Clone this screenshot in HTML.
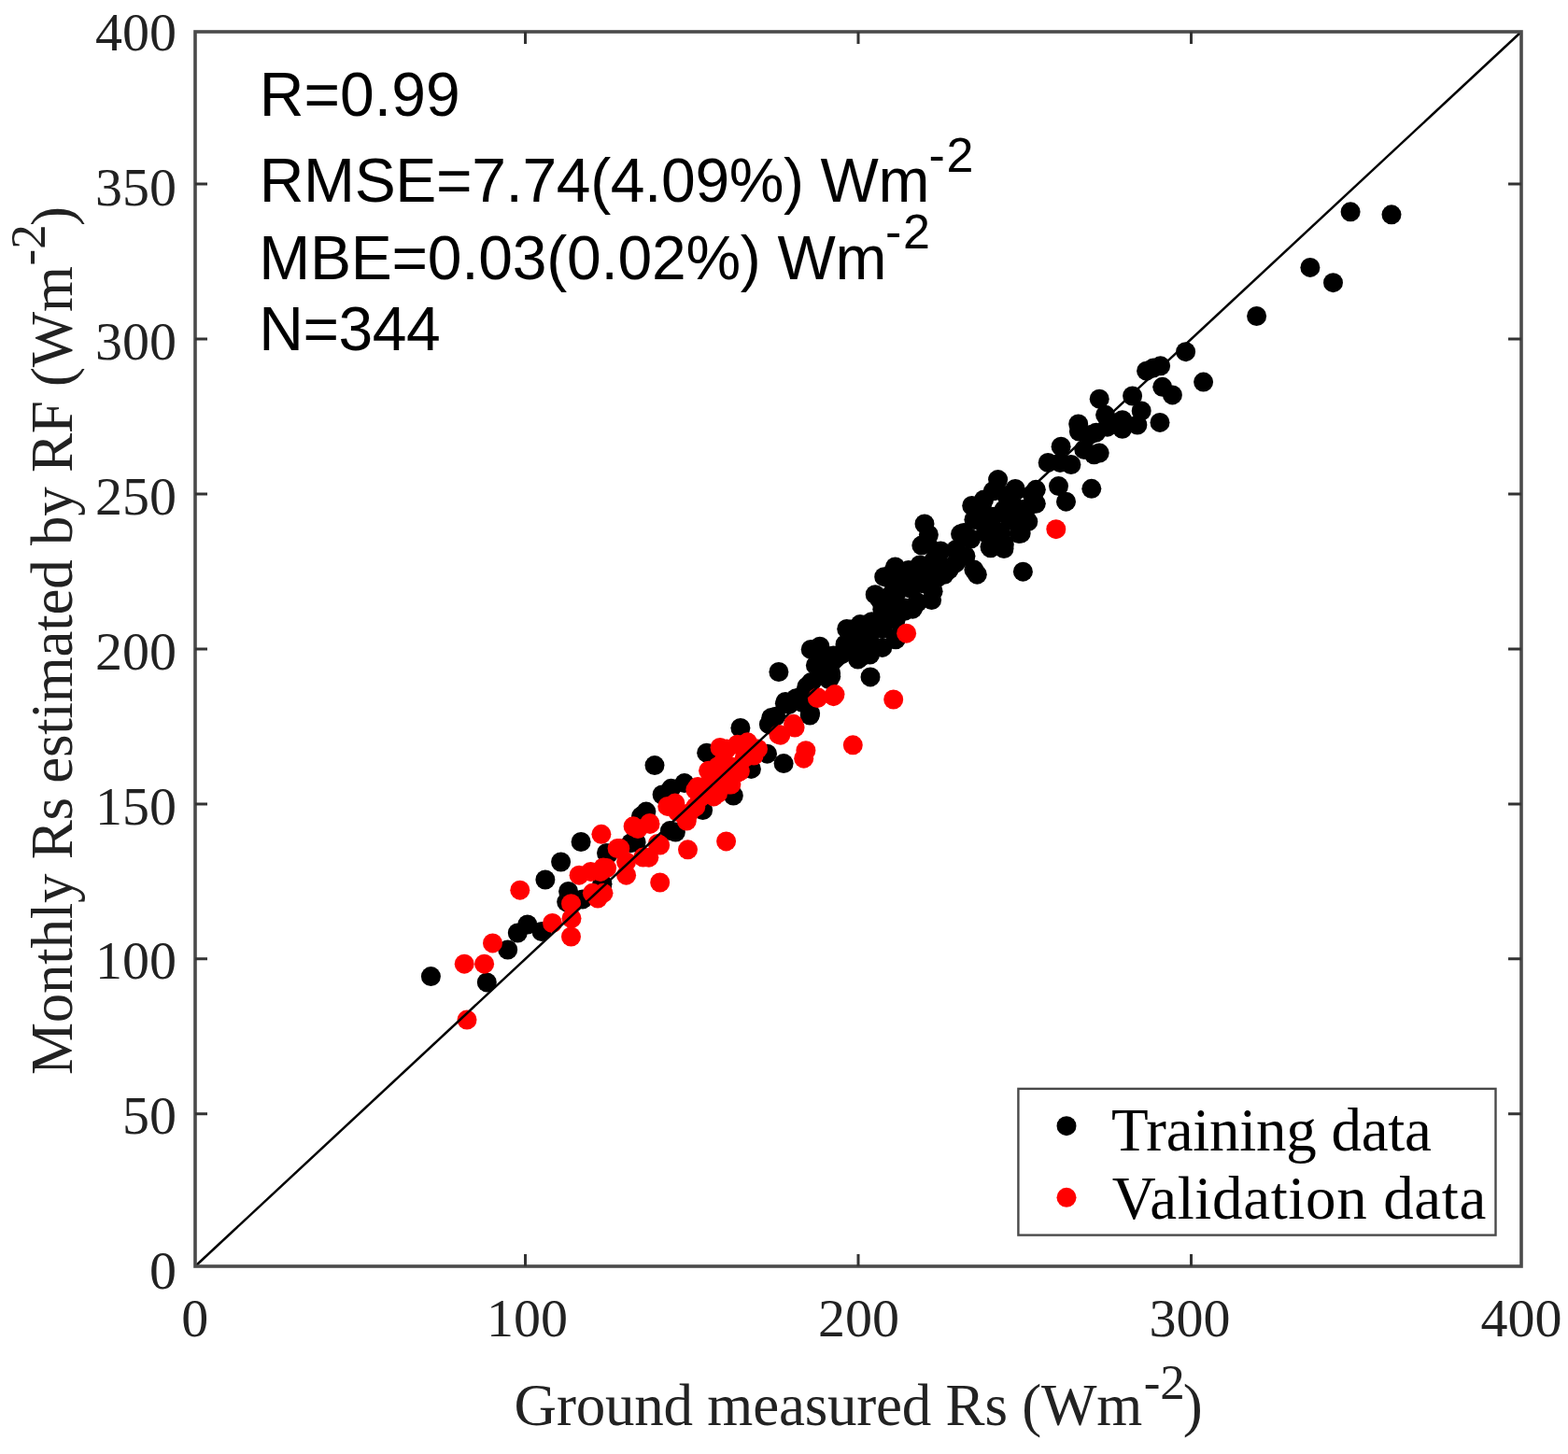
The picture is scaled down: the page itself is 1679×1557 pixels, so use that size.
<!DOCTYPE html><html><head><meta charset="utf-8"><title>Scatter</title><style>
html,body{margin:0;padding:0;background:#fff;width:1679px;height:1557px;overflow:hidden}
svg{display:block}
.tl{font-family:"Liberation Serif",serif;font-size:58px;fill:#222}
.at{font-family:"Liberation Serif",serif;font-size:63px;fill:#222}
.asup{font-family:"Liberation Serif",serif;font-size:53px;fill:#222}
.sup{font-size:42px}
.st{font-family:"Liberation Sans",sans-serif;font-size:66px;fill:#000}
.ssup{font-size:52px;letter-spacing:1.5px}
.lg{font-family:"Liberation Serif",serif;font-size:65px;fill:#000}
</style></head><body><svg width="1679" height="1557" viewBox="0 0 1679 1557"><rect width="1679" height="1557" fill="#fff"/><g fill="#000"><circle cx="461.4" cy="1045.6" r="10.5"/><circle cx="521.3" cy="1051.9" r="10.5"/><circle cx="543.7" cy="1017.0" r="10.5"/><circle cx="554.3" cy="999.0" r="10.5"/><circle cx="564.8" cy="990.0" r="10.5"/><circle cx="580.0" cy="997.5" r="10.5"/><circle cx="583.9" cy="942.0" r="10.5"/><circle cx="600.6" cy="923.0" r="10.5"/><circle cx="622.1" cy="901.5" r="10.5"/><circle cx="608.6" cy="954.4" r="10.5"/><circle cx="606.7" cy="965.8" r="10.5"/><circle cx="623.9" cy="962.9" r="10.5"/><circle cx="644.9" cy="946.7" r="10.5"/><circle cx="651.5" cy="914.3" r="10.5"/><circle cx="681.1" cy="901.9" r="10.5"/><circle cx="644.8" cy="946.8" r="10.5"/><circle cx="649.5" cy="913.4" r="10.5"/><circle cx="675.7" cy="902.7" r="10.5"/><circle cx="701.0" cy="819.6" r="10.5"/><circle cx="792.9" cy="779.5" r="10.5"/><circle cx="756.7" cy="806.2" r="10.5"/><circle cx="821.5" cy="807.2" r="10.5"/><circle cx="839.1" cy="817.6" r="10.5"/><circle cx="823.4" cy="775.7" r="10.5"/><circle cx="804.4" cy="823.4" r="10.5"/><circle cx="785.3" cy="852.0" r="10.5"/><circle cx="718.6" cy="844.3" r="10.5"/><circle cx="732.9" cy="838.6" r="10.5"/><circle cx="709.1" cy="851.0" r="10.5"/><circle cx="752.6" cy="867.6" r="10.5"/><circle cx="723.4" cy="891.0" r="10.5"/><circle cx="691.9" cy="869.1" r="10.5"/><circle cx="686.5" cy="874.1" r="10.5"/><circle cx="717.4" cy="889.6" r="10.5"/><circle cx="833.9" cy="719.5" r="10.5"/><circle cx="932.0" cy="724.9" r="10.5"/><circle cx="867.2" cy="766.1" r="10.5"/><circle cx="840.4" cy="753.3" r="10.5"/><circle cx="830.7" cy="767.2" r="10.5"/><circle cx="865.0" cy="735.0" r="10.5"/><circle cx="889.7" cy="724.3" r="10.5"/><circle cx="875.7" cy="713.6" r="10.5"/><circle cx="868.2" cy="695.4" r="10.5"/><circle cx="877.9" cy="692.2" r="10.5"/><circle cx="901.5" cy="700.7" r="10.5"/><circle cx="911.1" cy="674.0" r="10.5"/><circle cx="922.9" cy="702.9" r="10.5"/><circle cx="927.2" cy="686.8" r="10.5"/><circle cx="935.8" cy="670.7" r="10.5"/><circle cx="948.6" cy="665.4" r="10.5"/><circle cx="959.4" cy="683.6" r="10.5"/><circle cx="932.6" cy="695.4" r="10.5"/><circle cx="918.6" cy="706.1" r="10.5"/><circle cx="905.0" cy="690.0" r="10.5"/><circle cx="890.0" cy="710.0" r="10.5"/><circle cx="941.8" cy="641.5" r="10.5"/><circle cx="956.8" cy="611.5" r="10.5"/><circle cx="972.9" cy="610.4" r="10.5"/><circle cx="986.8" cy="584.1" r="10.5"/><circle cx="990.0" cy="561.0" r="10.5"/><circle cx="1028.6" cy="571.8" r="10.5"/><circle cx="1046.3" cy="615.2" r="10.5"/><circle cx="997.6" cy="642.5" r="10.5"/><circle cx="977.2" cy="652.2" r="10.5"/><circle cx="945.0" cy="649.0" r="10.5"/><circle cx="1003.0" cy="619.0" r="10.5"/><circle cx="1012.6" cy="608.2" r="10.5"/><circle cx="1023.3" cy="602.9" r="10.5"/><circle cx="1034.0" cy="595.4" r="10.5"/><circle cx="1007.2" cy="590.0" r="10.5"/><circle cx="1060.8" cy="586.8" r="10.5"/><circle cx="1071.5" cy="570.7" r="10.5"/><circle cx="1055.4" cy="570.7" r="10.5"/><circle cx="960.0" cy="635.0" r="10.5"/><circle cx="975.0" cy="630.0" r="10.5"/><circle cx="990.0" cy="625.0" r="10.5"/><circle cx="985.0" cy="605.0" r="10.5"/><circle cx="1000.0" cy="600.0" r="10.5"/><circle cx="955.0" cy="660.0" r="10.5"/><circle cx="1095.4" cy="612.2" r="10.5"/><circle cx="1168.8" cy="523.3" r="10.5"/><circle cx="1133.5" cy="520.6" r="10.5"/><circle cx="1141.5" cy="537.2" r="10.5"/><circle cx="1109.3" cy="524.3" r="10.5"/><circle cx="1109.3" cy="539.3" r="10.5"/><circle cx="1068.6" cy="513.6" r="10.5"/><circle cx="1086.8" cy="524.3" r="10.5"/><circle cx="1040.7" cy="541.5" r="10.5"/><circle cx="1100.8" cy="558.6" r="10.5"/><circle cx="1091.1" cy="571.5" r="10.5"/><circle cx="1075.0" cy="587.6" r="10.5"/><circle cx="1060.0" cy="585.4" r="10.5"/><circle cx="1032.2" cy="570.4" r="10.5"/><circle cx="1060.0" cy="556.5" r="10.5"/><circle cx="1075.0" cy="545.8" r="10.5"/><circle cx="1053.6" cy="535.0" r="10.5"/><circle cx="1080.4" cy="535.0" r="10.5"/><circle cx="1042.9" cy="556.5" r="10.5"/><circle cx="1064.3" cy="567.2" r="10.5"/><circle cx="1090.0" cy="545.0" r="10.5"/><circle cx="1023.6" cy="588.6" r="10.5"/><circle cx="1042.9" cy="610.1" r="10.5"/><circle cx="1016.1" cy="610.1" r="10.5"/><circle cx="1136.1" cy="478.2" r="10.5"/><circle cx="1122.2" cy="495.4" r="10.5"/><circle cx="1146.9" cy="497.5" r="10.5"/><circle cx="1135.1" cy="495.4" r="10.5"/><circle cx="1160.8" cy="481.4" r="10.5"/><circle cx="1171.5" cy="486.8" r="10.5"/><circle cx="1155.4" cy="462.0" r="10.5"/><circle cx="1173.7" cy="463.2" r="10.5"/><circle cx="1242.0" cy="452.4" r="10.5"/><circle cx="1255.4" cy="422.9" r="10.5"/><circle cx="1244.7" cy="414.3" r="10.5"/><circle cx="1227.6" cy="397.2" r="10.5"/><circle cx="1242.6" cy="391.8" r="10.5"/><circle cx="1235.1" cy="393.9" r="10.5"/><circle cx="1212.6" cy="424.0" r="10.5"/><circle cx="1222.2" cy="440.0" r="10.5"/><circle cx="1217.9" cy="455.0" r="10.5"/><circle cx="1201.8" cy="459.3" r="10.5"/><circle cx="1185.8" cy="457.2" r="10.5"/><circle cx="1183.6" cy="444.3" r="10.5"/><circle cx="1177.2" cy="427.2" r="10.5"/><circle cx="1154.7" cy="454.0" r="10.5"/><circle cx="1166.5" cy="465.8" r="10.5"/><circle cx="1177.2" cy="485.1" r="10.5"/><circle cx="1201.8" cy="449.7" r="10.5"/><circle cx="1269.6" cy="376.7" r="10.5"/><circle cx="1288.6" cy="409.1" r="10.5"/><circle cx="1446.1" cy="226.8" r="10.5"/><circle cx="1490.0" cy="229.8" r="10.5"/><circle cx="1402.9" cy="286.4" r="10.5"/><circle cx="1427.5" cy="302.7" r="10.5"/><circle cx="1345.6" cy="338.5" r="10.5"/><circle cx="873.4" cy="712.4" r="10.5"/><circle cx="882.9" cy="706.7" r="10.5"/><circle cx="892.4" cy="701.9" r="10.5"/><circle cx="901.9" cy="699.1" r="10.5"/><circle cx="878.1" cy="721.0" r="10.5"/><circle cx="889.6" cy="721.0" r="10.5"/><circle cx="868.6" cy="730.5" r="10.5"/><circle cx="863.8" cy="735.3" r="10.5"/><circle cx="887.6" cy="727.7" r="10.5"/><circle cx="919.1" cy="704.8" r="10.5"/><circle cx="931.5" cy="701.0" r="10.5"/><circle cx="944.8" cy="693.4" r="10.5"/><circle cx="959.1" cy="684.8" r="10.5"/><circle cx="906.7" cy="673.4" r="10.5"/><circle cx="921.0" cy="668.6" r="10.5"/><circle cx="933.4" cy="665.7" r="10.5"/><circle cx="944.8" cy="652.4" r="10.5"/><circle cx="954.4" cy="644.8" r="10.5"/><circle cx="978.2" cy="649.5" r="10.5"/><circle cx="916.2" cy="682.9" r="10.5"/><circle cx="930.5" cy="682.9" r="10.5"/><circle cx="925.8" cy="694.3" r="10.5"/><circle cx="944.8" cy="673.4" r="10.5"/><circle cx="959.1" cy="663.8" r="10.5"/><circle cx="968.6" cy="654.3" r="10.5"/><circle cx="911.5" cy="692.4" r="10.5"/><circle cx="935.3" cy="692.4" r="10.5"/><circle cx="844.8" cy="754.4" r="10.5"/><circle cx="867.6" cy="763.9" r="10.5"/><circle cx="859.1" cy="752.4" r="10.5"/><circle cx="852.4" cy="747.7" r="10.5"/><circle cx="1063.4" cy="525.8" r="10.5"/><circle cx="1077.7" cy="530.5" r="10.5"/><circle cx="1051.5" cy="541.3" r="10.5"/><circle cx="1081.3" cy="556.7" r="10.5"/><circle cx="1063.4" cy="553.2" r="10.5"/><circle cx="1046.7" cy="556.7" r="10.5"/><circle cx="1099.1" cy="544.8" r="10.5"/><circle cx="1093.2" cy="571.0" r="10.5"/><circle cx="1075.3" cy="583.0" r="10.5"/><circle cx="1039.6" cy="577.0" r="10.5"/><circle cx="1105.1" cy="529.3" r="10.5"/><circle cx="1087.2" cy="523.4" r="10.5"/><circle cx="993.0" cy="582.0" r="10.5"/><circle cx="963.4" cy="615.3" r="10.5"/><circle cx="975.3" cy="627.2" r="10.5"/><circle cx="987.2" cy="615.3" r="10.5"/><circle cx="999.1" cy="603.4" r="10.5"/><circle cx="1011.0" cy="615.3" r="10.5"/><circle cx="999.1" cy="633.2" r="10.5"/><circle cx="951.5" cy="639.1" r="10.5"/><circle cx="969.3" cy="651.0" r="10.5"/><circle cx="957.4" cy="627.2" r="10.5"/><circle cx="982.4" cy="645.1" r="10.5"/><circle cx="958.6" cy="607.0" r="10.5"/><circle cx="946.7" cy="617.7" r="10.5"/><circle cx="937.2" cy="636.7" r="10.5"/><circle cx="841.0" cy="751.4" r="10.5"/><circle cx="825.8" cy="768.6" r="10.5"/><circle cx="859.1" cy="744.8" r="10.5"/><circle cx="994.4" cy="572.4" r="10.5"/></g><g fill="#f00"><circle cx="497.2" cy="1032.2" r="10.5"/><circle cx="518.6" cy="1032.2" r="10.5"/><circle cx="500.0" cy="1092.1" r="10.5"/><circle cx="527.5" cy="1009.9" r="10.5"/><circle cx="591.5" cy="988.5" r="10.5"/><circle cx="611.5" cy="1003.0" r="10.5"/><circle cx="612.0" cy="983.5" r="10.5"/><circle cx="556.8" cy="953.2" r="10.5"/><circle cx="611.5" cy="967.7" r="10.5"/><circle cx="634.4" cy="956.3" r="10.5"/><circle cx="640.1" cy="962.0" r="10.5"/><circle cx="620.1" cy="937.2" r="10.5"/><circle cx="632.5" cy="933.4" r="10.5"/><circle cx="643.0" cy="933.4" r="10.5"/><circle cx="649.6" cy="929.6" r="10.5"/><circle cx="661.1" cy="908.6" r="10.5"/><circle cx="670.6" cy="922.9" r="10.5"/><circle cx="670.6" cy="937.2" r="10.5"/><circle cx="646.0" cy="928.9" r="10.5"/><circle cx="683.0" cy="887.6" r="10.5"/><circle cx="688.7" cy="918.1" r="10.5"/><circle cx="643.9" cy="893.3" r="10.5"/><circle cx="663.8" cy="908.6" r="10.5"/><circle cx="646.0" cy="956.3" r="10.5"/><circle cx="771.0" cy="800.5" r="10.5"/><circle cx="800.5" cy="794.8" r="10.5"/><circle cx="807.2" cy="809.1" r="10.5"/><circle cx="835.8" cy="787.2" r="10.5"/><circle cx="758.6" cy="825.3" r="10.5"/><circle cx="790.0" cy="827.2" r="10.5"/><circle cx="775.0" cy="815.0" r="10.5"/><circle cx="780.0" cy="840.0" r="10.5"/><circle cx="747.2" cy="842.4" r="10.5"/><circle cx="764.3" cy="852.9" r="10.5"/><circle cx="714.8" cy="863.4" r="10.5"/><circle cx="737.6" cy="871.0" r="10.5"/><circle cx="695.7" cy="881.5" r="10.5"/><circle cx="704.3" cy="903.4" r="10.5"/><circle cx="706.7" cy="945.0" r="10.5"/><circle cx="736.5" cy="909.8" r="10.5"/><circle cx="777.6" cy="900.9" r="10.5"/><circle cx="678.1" cy="884.8" r="10.5"/><circle cx="696.0" cy="882.4" r="10.5"/><circle cx="706.7" cy="905.1" r="10.5"/><circle cx="694.8" cy="918.2" r="10.5"/><circle cx="956.7" cy="749.0" r="10.5"/><circle cx="970.6" cy="678.2" r="10.5"/><circle cx="913.3" cy="797.8" r="10.5"/><circle cx="894.0" cy="743.6" r="10.5"/><circle cx="875.7" cy="746.8" r="10.5"/><circle cx="851.1" cy="779.0" r="10.5"/><circle cx="833.9" cy="786.5" r="10.5"/><circle cx="862.9" cy="803.7" r="10.5"/><circle cx="860.7" cy="812.2" r="10.5"/><circle cx="1130.8" cy="566.7" r="10.5"/><circle cx="849.5" cy="775.3" r="10.5"/><circle cx="778.1" cy="801.9" r="10.5"/><circle cx="789.6" cy="797.2" r="10.5"/><circle cx="801.9" cy="801.9" r="10.5"/><circle cx="811.5" cy="801.9" r="10.5"/><circle cx="797.2" cy="811.5" r="10.5"/><circle cx="782.9" cy="821.0" r="10.5"/><circle cx="768.6" cy="821.0" r="10.5"/><circle cx="792.4" cy="825.8" r="10.5"/><circle cx="773.4" cy="835.3" r="10.5"/><circle cx="759.1" cy="840.1" r="10.5"/><circle cx="782.9" cy="840.1" r="10.5"/><circle cx="749.5" cy="854.4" r="10.5"/><circle cx="768.6" cy="849.6" r="10.5"/><circle cx="744.8" cy="863.9" r="10.5"/><circle cx="754.3" cy="844.8" r="10.5"/><circle cx="875.3" cy="747.6" r="10.5"/><circle cx="892.5" cy="745.7" r="10.5"/><circle cx="725.8" cy="869.6" r="10.5"/><circle cx="735.3" cy="879.1" r="10.5"/><circle cx="722.9" cy="860.1" r="10.5"/><circle cx="744.8" cy="845.8" r="10.5"/></g><line x1="209" y1="1356" x2="1629" y2="34" stroke="#000" stroke-width="2.5"/><rect x="209" y="34" width="1420" height="1322" fill="none" stroke="#4a4a4a" stroke-width="3.6"/><path d="M209 1192.8h13M1629 1192.8h-14M209 1026.8h13M1629 1026.8h-14M209 860.9h13M1629 860.9h-14M209 694.9h13M1629 694.9h-14M209 528.9h13M1629 528.9h-14M209 363.0h13M1629 363.0h-14M209 197.0h13M1629 197.0h-14M562.5 1356v-13M562.5 34v13M919.0 1356v-13M919.0 34v13M1275.5 1356v-13M1275.5 34v13" stroke="#333" stroke-width="3" fill="none"/><text x="189" y="54.0" text-anchor="end" class="tl">400</text><text x="189" y="219.7" text-anchor="end" class="tl">350</text><text x="189" y="385.4" text-anchor="end" class="tl">300</text><text x="189" y="551.1" text-anchor="end" class="tl">250</text><text x="189" y="716.8" text-anchor="end" class="tl">200</text><text x="189" y="882.5" text-anchor="end" class="tl">150</text><text x="189" y="1048.2" text-anchor="end" class="tl">100</text><text x="189" y="1213.9" text-anchor="end" class="tl">50</text><text x="189" y="1379.6" text-anchor="end" class="tl">0</text><text x="208.7" y="1430.5" text-anchor="middle" class="tl">0</text><text x="564.6" y="1430.5" text-anchor="middle" class="tl">100</text><text x="919.5" y="1430.5" text-anchor="middle" class="tl">200</text><text x="1274" y="1430.5" text-anchor="middle" class="tl">300</text><text x="1629.1" y="1430.5" text-anchor="middle" class="tl">400</text><text x="550.6" y="1526" class="at" textLength="672.7" lengthAdjust="spacing">Ground measured Rs (Wm</text><text x="1224.7" y="1497.9" class="asup">-2</text><text x="1266.7" y="1526" class="at">)</text><g transform="translate(76.5,1151) rotate(-90)"><text x="0" y="0" class="at" textLength="866" lengthAdjust="spacing">Monthly Rs estimated by RF (Wm</text><text x="866.6" y="-28.5" class="asup">-2</text><text x="909" y="0" class="at">)</text></g><g class="st"><text x="277.8" y="124.3" textLength="214.9" lengthAdjust="spacing">R=0.99</text><text x="277.8" y="216.2" textLength="717.7" lengthAdjust="spacing">RMSE=7.74(4.09%) Wm</text><text x="994.6" y="184.3" class="ssup">-2</text><text x="277.3" y="298.6" textLength="672.3" lengthAdjust="spacing">MBE=0.03(0.02%) Wm</text><text x="948.1" y="265.9" class="ssup">-2</text><text x="277.3" y="374.6" textLength="194.3" lengthAdjust="spacing">N=344</text></g><rect x="1090.4" y="1165.9" width="511.1" height="156.7" fill="#fff" stroke="#4a4a4a" stroke-width="2.4"/><circle cx="1142" cy="1205.7" r="10.5" fill="#000"/><circle cx="1142" cy="1282.3" r="10.5" fill="#f00"/><text x="1190.1" y="1232" class="lg" textLength="342.85" lengthAdjust="spacing">Training data</text><text x="1190.8" y="1305" class="lg" textLength="400.5" lengthAdjust="spacing">Validation data</text></svg></body></html>
